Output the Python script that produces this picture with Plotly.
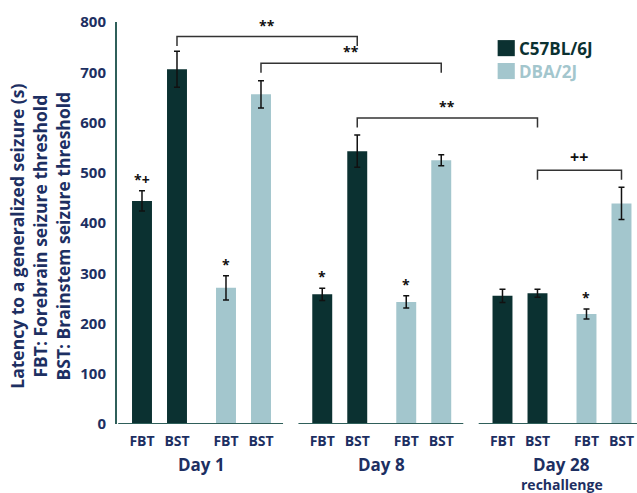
import plotly.graph_objects as go

# ---- data ----
groups = ["Day 1", "Day 8", "Day 28"]
tests = ["FBT", "BST"]
strains = ["C57BL/6J", "DBA/2J"]
c57_mean = [444, 706, 258, 543, 255, 260]
c57_sem = [20, 36, 12, 32, 13, 8]
dba_mean = [271, 656, 243, 525, 219, 439]
dba_sem = [24, 27, 12, 11, 10, 32]
c57_marks = ["*+", "", "*", "", "", ""]
dba_marks = ["*", "", "*", "", "*", ""]
y_ticks = [0, 100, 200, 300, 400, 500, 600, 700, 800]
# brackets: (strain a, bar index a, strain b, bar index b, level, label)
brackets = [
    (0, 1, 0, 3, 771, "**"),
    (1, 1, 1, 3, 718, "**"),
    (0, 3, 0, 5, 609, "**"),
    (0, 5, 1, 5, 505, "++"),
]

# ---- styling / layout ----
DARK = "#0b3131"
LIGHT = "#a3c6cd"
NAVY = "#1d2f62"
AXIS = "#2f5f5a"
FONT = "Open Sans"
group_step = 5.15
offsets = [[0, 1], [2.4, 3.4]]
bar_w = 0.57

pos = [[g * group_step + offsets[s][t] for g in range(len(groups)) for t in range(len(tests))]
       for s in range(2)]
means = [c57_mean, dba_mean]
sems = [c57_sem, dba_sem]
marks = [c57_marks, dba_marks]
colors = [DARK, LIGHT]

fig = go.Figure()
for s in range(2):
    fig.add_trace(go.Bar(
        x=pos[s], y=means[s], width=bar_w, marker=dict(color=colors[s], line=dict(width=0)),
        error_y=dict(type="data", array=sems[s], color="#111111", thickness=1.5, width=3),
        name=strains[s], showlegend=False,
    ))

annotations = []
shapes = []

# significance marks above bars
for s in range(2):
    for i, m in enumerate(marks[s]):
        if m:
            annotations.append(dict(x=pos[s][i], y=means[s][i] + sems[s][i], xref="x", yref="y",
                                    text=m, showarrow=False, yanchor="bottom", yshift=0,
                                    font=dict(family=FONT, size=14, color="#111111", weight="bold")))

# brackets
for sa, ia, sb, ib, lvl, lab in brackets:
    xa, xb = pos[sa][ia], pos[sb][ib]
    drop = 19
    path = f"M {xa},{lvl - drop} L {xa},{lvl} L {xb},{lvl} L {xb},{lvl - drop}"
    shapes.append(dict(type="path", path=path, xref="x", yref="y",
                       line=dict(color="#333333", width=1.5)))
    annotations.append(dict(x=(xa + xb) / 2, y=lvl, xref="x", yref="y", text=lab,
                            showarrow=False, yanchor="bottom",
                            font=dict(family=FONT, size=14 if lab == "**" else 16,
                                      color="#111111", weight="bold")))

# baseline segments per group
for g in range(len(groups)):
    x0 = g * group_step + offsets[0][0] - 0.68
    x1 = g * group_step + offsets[1][1] + 0.63
    shapes.append(dict(type="line", x0=x0, x1=x1, y0=0, y1=0, xref="x", yref="y",
                       line=dict(color=AXIS, width=2)))

# group labels
for g, name in enumerate(groups):
    xc = g * group_step + (offsets[0][0] + offsets[1][1]) / 2
    annotations.append(dict(x=xc, y=-0.100, xref="x", yref="paper", text=name, showarrow=False,
                            yanchor="middle",
                            font=dict(family=FONT, size=17, color=NAVY, weight="bold")))
    if name == "Day 28":
        annotations.append(dict(x=xc, y=-0.150, xref="x", yref="paper", text="rechallenge",
                                showarrow=False, yanchor="middle",
                                font=dict(family=FONT, size=14, color=NAVY, weight="bold")))

# y title
annotations.append(dict(
    x=-0.148, y=0.466, xref="paper", yref="paper", textangle=-90, showarrow=False,
    xanchor="center", yanchor="middle",
    text="Latency to a generalized seizure (s)<br>FBT: Forebrain seizure threshold<br>BST: Brainstem seizure threshold",
    font=dict(family=FONT, size=17.5, color=NAVY, weight="bold"), align="center"))

# custom legend
leg_y = [0.935, 0.878]
for s in range(2):
    shapes.append(dict(type="rect", xref="paper", yref="paper",
                       x0=0.732, x1=0.765, y0=leg_y[s] - 0.02, y1=leg_y[s] + 0.02,
                       fillcolor=colors[s], line=dict(width=0)))
    annotations.append(dict(x=0.77, y=leg_y[s], xref="paper", yref="paper", text=strains[s],
                            showarrow=False, xanchor="left", yanchor="middle",
                            font=dict(family=FONT, size=17, color=colors[s], weight="bold")))

tickvals = pos[0] + pos[1]
ticktext = [tests[i % 2] for i in range(len(pos[0]))] * 2

fig.update_layout(
    width=637, height=493,
    margin=dict(l=117, r=0, t=22, b=69),
    paper_bgcolor="white", plot_bgcolor="white",
    shapes=shapes, annotations=annotations,
    xaxis=dict(range=[-0.714, 14.143], tickvals=tickvals, ticktext=ticktext,
               showline=False, showgrid=False, zeroline=False, ticks="", ticklabelstandoff=7,
               tickfont=dict(family=FONT, size=14, color=NAVY, weight="bold")),
    yaxis=dict(range=[0, 800], tickvals=y_ticks, showline=True, linecolor=AXIS, linewidth=2,
               showgrid=False, zeroline=False, ticks="", ticklabelstandoff=6,
               tickfont=dict(family=FONT, size=15, color=NAVY, weight="bold")),
)

# remove the page's default body margin so the figure fills the window exactly
fig.write_html("out.html", config={"displayModeBar": False},
               post_script="document.body.style.margin='0';document.body.style.overflow='hidden';")
